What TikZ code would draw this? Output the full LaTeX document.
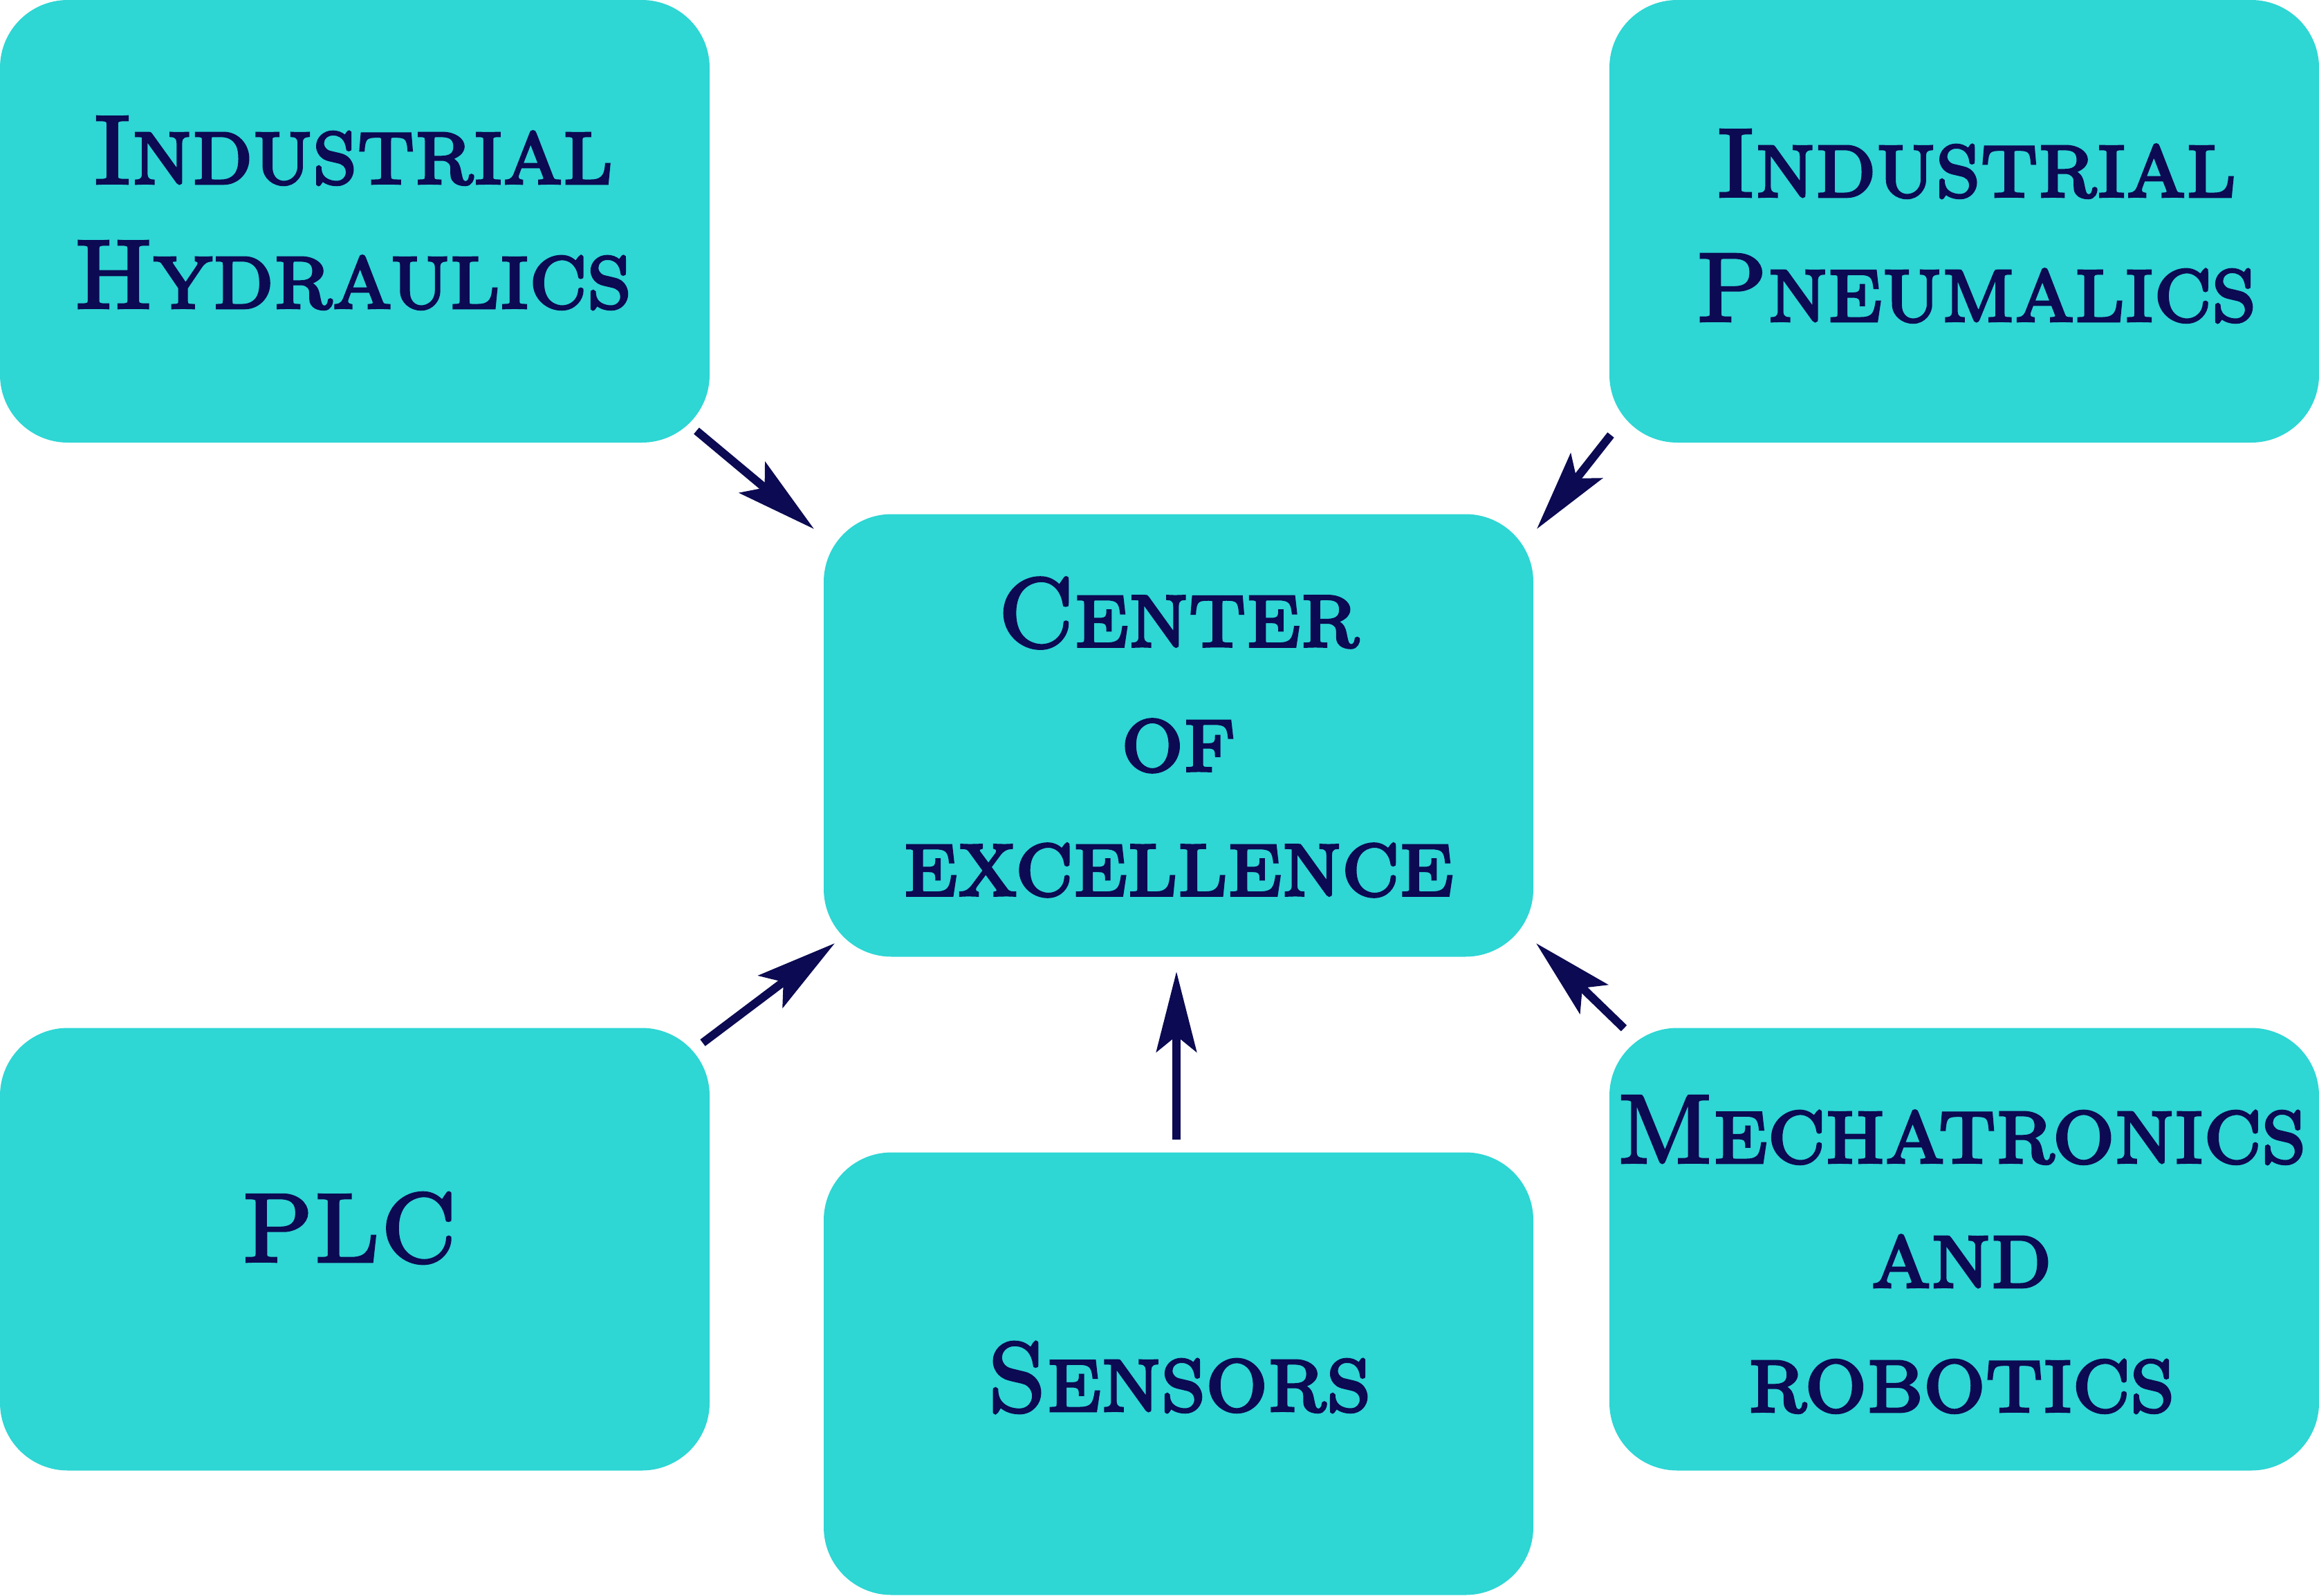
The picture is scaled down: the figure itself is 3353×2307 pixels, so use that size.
\documentclass[tikz,border=0pt]{standalone}
\usepackage{fontspec}
\newfontfamily\capfont{lmromancaps10-regular.otf}[FakeBold=3]
\usetikzlibrary{arrows.meta}
\definecolor{tq}{RGB}{46,214,212}
\definecolor{navy}{RGB}{11,10,82}
\tikzset{
  box/.style={fill=tq, rounded corners=98pt, minimum width=1026pt, minimum height=640pt, inner sep=0pt},
  lbl/.style={text=navy, align=center, inner sep=0pt, font=\capfont\fontsize{141}{180}\selectfont},
  arr/.style={draw=navy, line width=12pt, -{Stealth[length=116pt,width=58pt,inset=23pt]}}
}
\begin{document}
\begin{tikzpicture}[x={(1pt,0pt)}, y={(0pt,-1pt)}]
\useasboundingbox (0,0) rectangle (3353,2307);
% boxes
\node[box] (hyd) at (513,320) {};
\node[box] (pne) at (2840,320) {};
\node[box] (coe) at (1704,1063.5) {};
\node[box] (plc) at (513,1806.5) {};
\node[box] (sen) at (1704,1986.5) {};
\node[box] (mec) at (2840,1806.5) {};
% texts
\node[lbl] (hydT) at (510,308) {Industrial\\Hydraulics};
\node[lbl] (pneT) at (2857,327) {Industrial\\Pneumalics};
\node[lbl] (coeT) at (1704,1066) {Center\\of\\excellence};
\node[lbl] (plcT) at (505,1776) {PLC};
\node[lbl] (senT) at (1705,1992) {Sensors};
\node[lbl] (mecT) at (2836,1814) {Mechatronics\\and\\robotics};
% arrow ends
\coordinate (a1s) at (1007,623);  \coordinate (a1e) at (1177,765);
\coordinate (a2s) at (2329,629);  \coordinate (a2e) at (2222,765);
\coordinate (a3s) at (1016,1508); \coordinate (a3e) at (1207,1364);
\coordinate (a4s) at (1701,1648); \coordinate (a4e) at (1701,1405);
\coordinate (a5s) at (2348,1487); \coordinate (a5e) at (2221,1364);
\draw[arr] (a1s) -- (a1e);
\draw[arr] (a2s) -- (a2e);
\draw[arr] (a3s) -- (a3e);
\draw[arr] (a4s) -- (a4e);
\draw[arr] (a5s) -- (a5e);
\end{tikzpicture}
\end{document}
